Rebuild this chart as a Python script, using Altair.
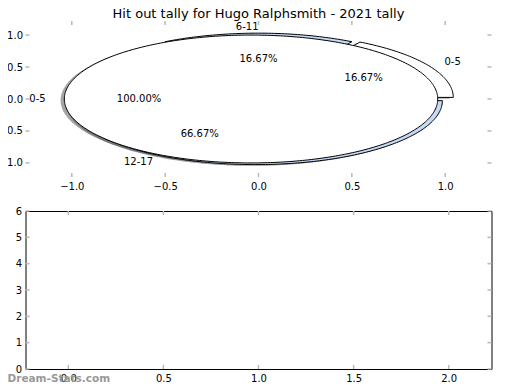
import altair as alt
import numpy as np
import pandas as pd

# ---------------- data ----------------
title_text = "Hit out tally for Hugo Ralphsmith - 2021 tally"
outer_labels = ["0-5", "6-11", "12-17"]
outer_values = [1, 1, 4]
outer_explode = [0.05, 0.03, 0.03]
outer_colors = ["#ffffff", "#c5d8f5", "#c5d8f5"]

inner_labels = ["0-5"]
inner_values = [1]
inner_explode = [0.04]
inner_colors = ["#ffffff"]

top_xticks = [-1.0, -0.5, 0.0, 0.5, 1.0]
top_yticks = [-1.0, -0.5, 0.0, 0.5, 1.0]
bottom_xticks = [0.0, 0.5, 1.0, 1.5, 2.0]
bottom_yticks = [0, 1, 2, 3, 4, 5, 6]
watermark = ["Dream-Stats.com"]

# ---------------- style / layout ----------------
W = 466
H_TOP = 156
H_BOT = 158
top_xdomain = [-1.248, 1.248]
top_ydomain = [-1.22, 1.22]
bot_xdomain = [-0.225, 2.225]
bot_ydomain = [0, 6]
RADIUS = 1.0
SHADOW = (-0.02, -0.02)
LABEL_DIST = 1.1
PCT_DIST = 0.6
FONT = "DejaVu Sans"
TICK_COLOR = "#b8b8b8"


def shade(hexcol):
    h = hexcol.lstrip("#")
    rgb = [int(h[i:i + 2], 16) * 0.3 for i in (0, 2, 4)]
    return "#" + "".join(f"{int(round(c)):02x}" for c in rgb)


def build_pie(prefix, labels, values, explode, colors):
    total = float(sum(values))
    polys, shadows, texts = [], [], []
    start = 0.0
    for k, (lab, val, ex, col) in enumerate(zip(labels, values, explode, colors)):
        frac = val / total
        t1, t2 = start * 360.0, (start + frac) * 360.0
        mid = np.radians((t1 + t2) / 2.0)
        cx, cy = ex * RADIUS * np.cos(mid), ex * RADIUS * np.sin(mid)
        n = max(int(round(t2 - t1)), 4)
        th = np.radians(np.linspace(t1, t2, n + 1))
        px = list(cx + RADIUS * np.cos(th))
        py = list(cy + RADIUS * np.sin(th))
        if frac < 0.999999:
            px = [cx] + px + [cx]
            py = [cy] + py + [cy]
        else:
            px.append(px[0])
            py.append(py[0])
        wid = f"{prefix}{k}"
        for i, (x, y) in enumerate(zip(px, py)):
            polys.append({"wid": wid, "i": i, "x": x, "y": y, "fill": col})
            shadows.append({"wid": wid, "i": i, "x": x + SHADOW[0], "y": y + SHADOW[1],
                            "fill": shade(col)})
        lx = cx + LABEL_DIST * RADIUS * np.cos(mid)
        ly = cy + LABEL_DIST * RADIUS * np.sin(mid)
        texts.append({"text": lab, "x": lx, "y": ly,
                      "align": "left" if round(lx, 6) > 0 else "right"})
        texts.append({"text": f"{frac * 100:.2f}%",
                      "x": cx + PCT_DIST * RADIUS * np.cos(mid),
                      "y": cy + PCT_DIST * RADIUS * np.sin(mid), "align": "center"})
        start += frac
    return polys, shadows, texts


o_poly, o_shad, o_text = build_pie("o", outer_labels, outer_values, outer_explode, outer_colors)
i_poly, i_shad, i_text = build_pie("i", inner_labels, inner_values, inner_explode, inner_colors)

outer_df = pd.DataFrame(o_poly)
inner_df = pd.DataFrame(i_poly)
shadow_df = pd.DataFrame(o_shad + i_shad)
text_df = pd.DataFrame(o_text + i_text)

axis_common = dict(ticks=False, domain=False, grid=False, title=None,
                   labelFont=FONT, labelFontSize=10, labelColor="black")

X_top = alt.X("x:Q", scale=alt.Scale(domain=top_xdomain, nice=False, zero=False),
              axis=alt.Axis(values=top_xticks, format=".1f", labelPadding=4, **axis_common))
Y_top = alt.Y("y:Q", scale=alt.Scale(domain=top_ydomain, nice=False, zero=False),
              axis=alt.Axis(values=top_yticks, format=".1f", labelPadding=3, **axis_common))

shadow_layer = alt.Chart(shadow_df).mark_line(strokeOpacity=0, fillOpacity=0.5).encode(
    x=X_top, y=Y_top, fill=alt.Fill("fill:N", scale=None), detail="wid:N", order="i:Q")
outer_layer = alt.Chart(outer_df).mark_line(stroke="black", strokeWidth=1).encode(
    x=X_top, y=Y_top, fill=alt.Fill("fill:N", scale=None), detail="wid:N", order="i:Q")
inner_layer = alt.Chart(inner_df).mark_line(stroke="black", strokeWidth=1).encode(
    x=X_top, y=Y_top, fill=alt.Fill("fill:N", scale=None), detail="wid:N", order="i:Q")

text_layers = []
for al in ["left", "right", "center"]:
    text_layers.append(
        alt.Chart(text_df).transform_filter(alt.datum.align == al)
        .mark_text(align=al, baseline="middle", font=FONT, fontSize=10, color="black")
        .encode(x=X_top, y=Y_top, text="text:N"))


def tick_layers(xt, yt, X, Y, h):
    xdf = pd.DataFrame({"x": xt})
    ydf = pd.DataFrame({"y": yt})
    style = dict(color=TICK_COLOR, strokeWidth=1.5)
    return [
        alt.Chart(ydf).mark_rule(**style).encode(y=Y, x=alt.value(0), x2=alt.value(4)),
        alt.Chart(ydf).mark_rule(**style).encode(y=Y, x=alt.value(W), x2=alt.value(W - 4)),
        alt.Chart(xdf).mark_rule(**style).encode(x=X, y=alt.value(0), y2=alt.value(4)),
        alt.Chart(xdf).mark_rule(**style).encode(x=X, y=alt.value(h), y2=alt.value(h - 4)),
    ]


top = alt.layer(
    *tick_layers(top_xticks, top_yticks, X_top, Y_top, H_TOP),
    shadow_layer, outer_layer, inner_layer, *text_layers
).properties(
    width=W, height=H_TOP,
    title=alt.TitleParams(title_text, frame="group", anchor="middle", font=FONT,
                          fontSize=13, fontWeight="normal", color="black",
                          baseline="alphabetic", offset=-11),
    view=alt.ViewBackground(stroke="transparent"),
)

X_bot = alt.X("x:Q", scale=alt.Scale(domain=bot_xdomain, nice=False, zero=False),
              axis=alt.Axis(values=bottom_xticks, format=".1f", labelPadding=4, **axis_common))
Y_bot = alt.Y("y:Q", scale=alt.Scale(domain=bot_ydomain, nice=False, zero=False),
              axis=alt.Axis(values=bottom_yticks, format="d", labelPadding=4, **axis_common))

wm_layer = alt.Chart(pd.DataFrame({"t": watermark})).mark_text(
    align="left", baseline="middle", font=FONT, fontSize=10.5, fontWeight="bold",
    color="#999999").encode(x=alt.value(-18), y=alt.value(168), text="t:N")

bottom = alt.layer(
    *tick_layers(bottom_xticks, bottom_yticks, X_bot, Y_bot, H_BOT), wm_layer
).properties(
    width=W, height=H_BOT,
    view=alt.ViewBackground(stroke="black", strokeWidth=1),
)

chart = alt.vconcat(top, bottom, spacing=34, bounds="flush").properties(
    padding={"left": -10.5, "top": -1, "right": 0, "bottom": 0},
).configure(font=FONT).configure_view(fill="white")

chart.save("out.html", embed_options={"renderer": "svg", "actions": False})
